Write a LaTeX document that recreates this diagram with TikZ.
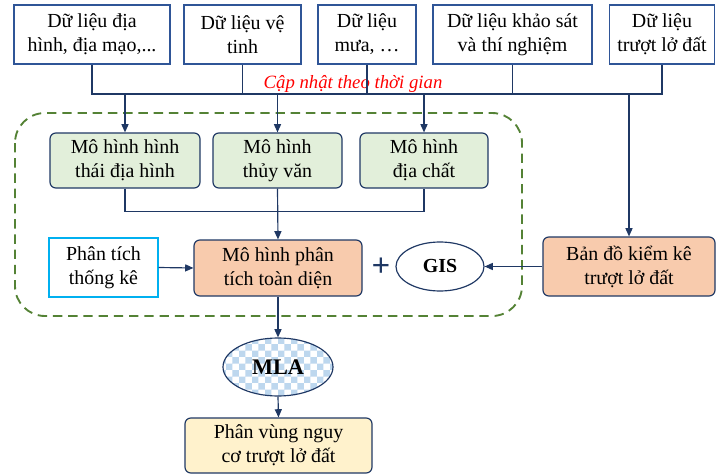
\documentclass[tikz,border=0pt]{standalone}
\usepackage{fontspec}
\setmainfont{Liberation Serif}
\newfontfamily\chutimes{Liberation Serif}
\usetikzlibrary{arrows.meta,shapes.geometric,patterns}

\definecolor{xanhdam}{HTML}{1F3864}
\definecolor{vien}{HTML}{2F5597}
\definecolor{xanhla}{HTML}{E2EFDA}
\definecolor{cam}{HTML}{F8CBAD}
\definecolor{vang}{HTML}{FFF2CC}
\definecolor{xanhnhat}{HTML}{00B0F0}
\definecolor{luc}{HTML}{548235}
\definecolor{ocaro}{HTML}{BDD7EE}

\begin{document}
\begin{tikzpicture}[x=0.03cm, y=-0.03cm,
  font=\chutimes\fontsize{17}{20.4}\selectfont,
  >={Triangle[length=7pt,width=6pt]},
  kt/.style 2 args={minimum width=#1*0.03cm, minimum height=#2*0.03cm},
  hop/.style={draw=vien, line width=1pt, fill=white, align=center, inner sep=0pt},
  mohinh/.style={draw=xanhdam, line width=1pt, rounded corners=5pt, align=center, inner sep=0pt},
  noi/.style={draw=xanhdam, line width=1pt}]
  \useasboundingbox (0,0) rectangle (717,475);

  % du lieu dau vao
  \node[hop, kt={156}{59}] (d1) at (92,34.5) {Dữ liệu địa\\hình, địa mạo,...};
  \node[hop, kt={117}{59}] (d2) at (242.5,34.5) {Dữ liệu vệ\\tinh};
  \node[hop, kt={98}{59}] (d3) at (367,34.5) {Dữ liệu\\mưa, …};
  \node[hop, kt={159}{59}] (d4) at (512.5,34.5) {Dữ liệu khảo sát\\và thí nghiệm};
  \node[hop, kt={105}{59}] (d5) at (662,34.5) {Dữ liệu\\trượt lở đất};

  \coordinate (bus) at (0,94);
  \node[text=red, font=\chutimes\fontsize{16}{19}\selectfont\itshape] (capnhat) at (353,84) {Cập nhật theo thời gian};

  %-------------
  \draw[luc, line width=1.6pt, dash pattern=on 8pt off 5pt, rounded corners=0.9cm] (15,113) rectangle (522,316);

  \node[mohinh, fill=xanhla, kt={150}{55}] (m1) at (125,160.5) {Mô hình hình\\thái địa hình};
  \node[mohinh, fill=xanhla, kt={129}{55}] (m2) at (277.5,160.5) {Mô hình\\thủy văn};
  \node[mohinh, fill=xanhla, kt={128}{55}] (m3) at (424,160.5) {Mô hình\\địa chất};

  \node[draw=xanhnhat, line width=1pt, align=center, inner sep=0pt, kt={109}{59}] (tk) at (103.5,267.5) {Phân tích\\thống kê};
  \node[mohinh, fill=cam, kt={168}{56}] (pt) at (278,268) {Mô hình phân\\tích toàn diện};
  \node[text=xanhdam, font=\chutimes\fontsize{28}{28}\selectfont\bfseries] (cong) at (381,267) {+};
  \node[ellipse, draw=xanhdam, line width=1pt, fill=white, inner sep=0pt, kt={88}{49}, font=\chutimes\fontsize{17}{20.4}\selectfont\bfseries] (gis) at (440,266.5) {GIS};
  \node[mohinh, fill=cam, kt={172}{59}] (bd) at (629,266.5) {Bản đồ kiểm kê\\trượt lở đất};

  %-------------
  \node[ellipse, draw=xanhdam, line width=1pt, preaction={fill=white}, pattern=checkerboard, pattern color=ocaro, inner sep=0pt, kt={110}{58}, font=\chutimes\fontsize{19}{22}\selectfont\bfseries] (mla) at (278,367) {MLA};
  \node[mohinh, fill=vang, kt={187}{55}] (pv) at (278.5,445.5) {Phân vùng nguy\\cơ trượt lở đất};

  %------------- duong noi
  \draw[noi] (d1.south) -- (d1.south |- bus) -- (d5.south |- bus) -- (d5.south);
  \draw[noi] (d2.south) -- (d2.south |- bus);
  \draw[noi] (d3.south) -- (d3.south |- bus);
  \draw[noi] (d4.south) -- (d4.south |- bus);

  \draw[noi, ->] (m1.north |- bus) -- (m1.north);
  \draw[noi, ->] (m2.north |- bus) -- (m2.north);
  \draw[noi, ->] (m3.north |- bus) -- (m3.north);
  \draw[noi, ->] (bd.north |- bus) -- (bd.north);

  \draw[noi] (m1.south) -- ++(0,23) -| (m3.south);
  \draw[noi, ->] (m2.south) -- (pt.north);
  \draw[noi, ->] (tk.east) -- (pt.west);
  \draw[noi, ->] (bd.west) -- (gis.east);
  \draw[noi, ->] (pt.south) -- (mla.north);
  \draw[noi, ->] (mla.south) -- (pv.north);

\end{tikzpicture}
\end{document}
